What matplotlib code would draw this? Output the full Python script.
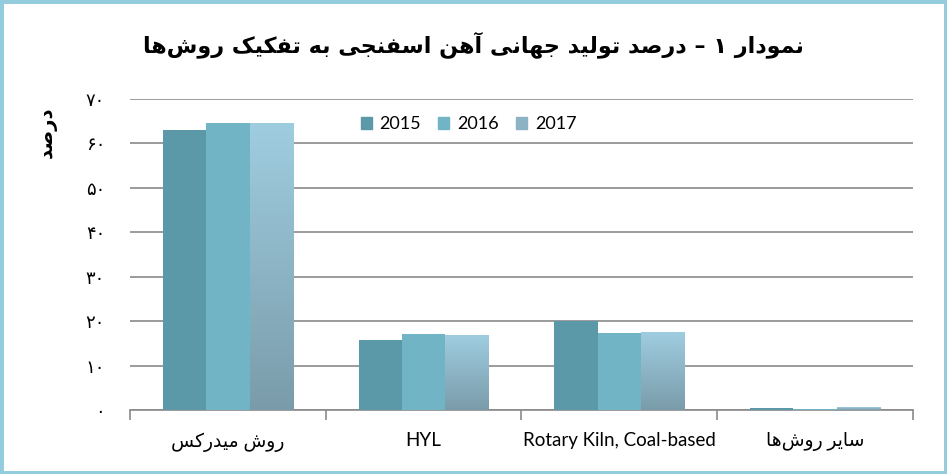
import matplotlib
matplotlib.use('Agg')
import matplotlib.pyplot as plt
import numpy as np
from matplotlib import font_manager
from matplotlib.ft2font import FT2Font
from matplotlib.patches import Rectangle, Patch
from matplotlib.colors import LinearSegmentedColormap

# data
categories = ['روش میدرکس', 'HYL', 'Rotary Kiln, Coal-based', 'سایر روش‌ها']
years = ['2015', '2016', '2017']
v2015 = [63.0, 15.8, 20.0, 0.5]
v2016 = [64.6, 17.1, 17.3, 0.25]
v2017 = [64.6, 16.7, 17.4, 0.5]
yticks = [0, 10, 20, 30, 40, 50, 60, 70]
title = 'نمودار ۱ – درصد تولید جهانی آهن اسفنجی به تفکیک روش‌ها'
ylabel = 'درصد'

# --- tiny arabic/persian shaper (matplotlib does no shaping) ---
# isolated, final, initial, medial
FORMS = {
    'ا': (0xFE8D, 0xFE8E, None, None), 'آ': (0xFE81, 0xFE82, None, None),
    'د': (0xFEA9, 0xFEAA, None, None), 'ر': (0xFEAD, 0xFEAE, None, None),
    'و': (0xFEED, 0xFEEE, None, None),
    'ب': (0xFE8F, 0xFE90, 0xFE91, 0xFE92), 'ت': (0xFE95, 0xFE96, 0xFE97, 0xFE98),
    'ج': (0xFE9D, 0xFE9E, 0xFE9F, 0xFEA0), 'س': (0xFEB1, 0xFEB2, 0xFEB3, 0xFEB4),
    'ش': (0xFEB5, 0xFEB6, 0xFEB7, 0xFEB8), 'ص': (0xFEB9, 0xFEBA, 0xFEBB, 0xFEBC),
    'ف': (0xFED1, 0xFED2, 0xFED3, 0xFED4), 'ل': (0xFEDD, 0xFEDE, 0xFEDF, 0xFEE0),
    'م': (0xFEE1, 0xFEE2, 0xFEE3, 0xFEE4), 'ن': (0xFEE5, 0xFEE6, 0xFEE7, 0xFEE8),
    'ه': (0xFEE9, 0xFEEA, 0xFEEB, 0xFEEC),
    'ک': (0xFB8E, 0xFB8F, 0xFB90, 0xFB91), 'ی': (0xFBFC, 0xFBFD, 0xFBFE, 0xFBFF),
}
FALLBACK = {'ک': (0xFED9, 0xFEDA, 0xFEDB, 0xFEDC), 'ی': (0xFEEF, 0xFEF0, 0xFEF3, 0xFEF4)}


def has_glyphs(weight, codes):
    path = font_manager.findfont(font_manager.FontProperties(family='DejaVu Sans', weight=weight))
    f = FT2Font(path)
    return all(f.get_char_index(c) != 0 for c in codes)


def shape(text, weight='normal'):
    table = dict(FORMS)
    for k, v in FALLBACK.items():
        if not has_glyphs(weight, FORMS[k]):
            table[k] = v
    chars = list(text)
    out = []
    for i, c in enumerate(chars):
        if c not in table:
            if c != '\u200c':
                out.append(c)
            continue
        prev = chars[i - 1] if i > 0 else None
        nxt = chars[i + 1] if i + 1 < len(chars) else None
        jp = prev in table and table[prev][2] is not None
        jn = nxt in table and table[c][2] is not None
        iso, fin, ini, med = table[c]
        if jp and jn:
            code = med
        elif jp:
            code = fin
        elif jn:
            code = ini
        else:
            code = iso
        out.append(chr(code))
    # visual order: reverse, keep digit / latin runs left-to-right
    out = out[::-1]
    res, run = [], []
    for ch in out + ['']:
        if ch and (ch.isascii() and ch.isalnum() or '\u06f0' <= ch <= '\u06f9'):
            run.append(ch)
        else:
            res.extend(run[::-1])
            run = []
            res.append(ch)
    return ''.join(res)


def fa_digits(n):
    return str(n).translate(str.maketrans('0123456789', '۰۱۲۳۴۵۶۷۸۹'))


def label(s):
    if any('\u0600' <= ch <= '\u06ff' for ch in s):
        return shape(s)
    return s


c2015 = '#5b98a8'
c2016 = '#70b4c6'
c2017_top = '#9fcde0'
c2017_bot = '#7a9caa'
grid_c = '#8a8a8a'

fig = plt.figure(figsize=(9.47, 4.74), dpi=100)
ax = fig.add_axes([0.1373, 0.135, 0.8267, 0.656])

x = np.arange(len(categories))
w = 0.221
ax.bar(x - w, v2015, w, color=c2015, zorder=3)
ax.bar(x, v2016, w, color=c2016, zorder=3)
bars17 = ax.bar(x + w, v2017, w, color=c2017_bot, zorder=3)

# vertical gradient on the 2017 bars
grad = np.linspace(0, 1, 256).reshape(-1, 1)
cmap17 = LinearSegmentedColormap.from_list('g17', [c2017_bot, c2017_top])
for b in bars17:
    x0, y0 = b.get_x(), b.get_y()
    ax.imshow(grad, cmap=cmap17, origin='lower', aspect='auto', zorder=4,
              extent=(x0, x0 + b.get_width(), y0, y0 + b.get_height()))

ax.set_xlim(-0.5, len(categories) - 0.5)
ax.set_ylim(0, 70)
ax.set_yticks(yticks)
ax.set_yticklabels([fa_digits(t) for t in yticks], fontsize=13,
                   family=['DejaVu Sans'])
ax.tick_params(axis='y', length=0, pad=18)
ax.yaxis.grid(True, color=grid_c, lw=1.2, zorder=0)

ax.set_xticks(x)
ax.set_xticklabels([label(c) for c in categories], fontsize=13.5,
                   family=['Lato', 'DejaVu Sans'])
ax.set_xticks(np.arange(len(categories) + 1) - 0.5, minor=True)
ax.tick_params(axis='x', which='major', length=0, pad=16)
ax.tick_params(axis='x', which='minor', length=7, color=grid_c, width=1.2)

for s in ['left', 'right', 'top']:
    ax.spines[s].set_visible(False)
ax.spines['bottom'].set_color(grid_c)
ax.spines['bottom'].set_linewidth(1.2)

# legend, 2017 swatch uses the gradient's mid tone
handles = [Patch(color=c2015), Patch(color=c2016), Patch(color='#8cb3c4')]
fig.legend(handles, years, loc='center', bbox_to_anchor=(0.495, 0.738), ncol=3,
           frameon=False, handlelength=0.6, handleheight=0.6, handletextpad=0.45,
           columnspacing=0.95, prop={'family': 'Lato', 'size': 13})

fig.text(0.5, 0.905, shape(title, 'bold'), ha='center', va='center',
         fontsize=16, fontweight='heavy', family='DejaVu Sans')
fig.text(0.05, 0.72, shape(ylabel, 'bold'), ha='center', va='center', rotation=90,
         fontsize=14, fontweight='bold', family='DejaVu Sans')

fig.patches.append(Rectangle((0, 0), 1, 1, transform=fig.transFigure, fill=False,
                             edgecolor='#93cddd', lw=5, zorder=10))

fig.savefig('out.png', dpi=100)
